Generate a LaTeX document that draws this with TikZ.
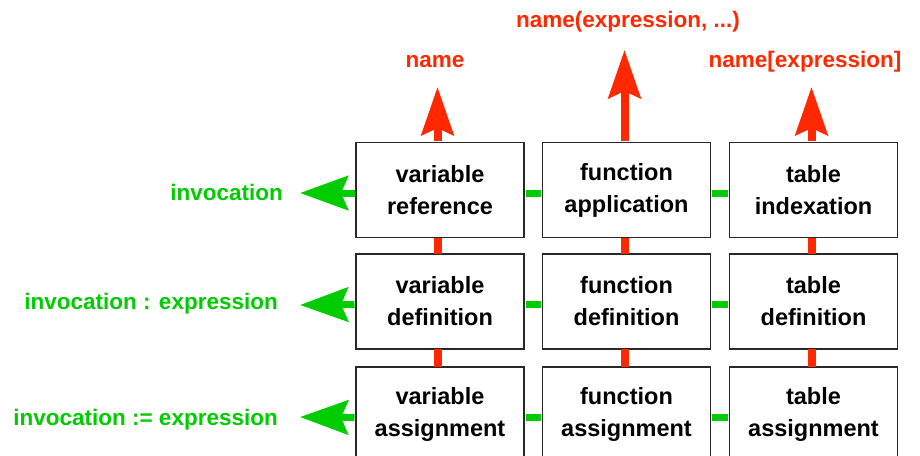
\documentclass[tikz,border=0pt]{standalone}
\usepackage{fontspec}
\setmainfont{Liberation Sans}
\usetikzlibrary{arrows.meta}
\definecolor{myred}{RGB}{255,40,0}
\definecolor{mygreen}{RGB}{0,204,0}
\definecolor{edge}{RGB}{40,40,40}
\tikzset{
  box/.style={draw=edge, line width=1.5pt, fill=white, minimum width=168pt, minimum height=95pt,
    inner sep=0pt, align=center, font=\fontsize{23.5}{32}\selectfont\bfseries},
  redarrow/.style={draw=myred, line width=8pt, -{Stealth[length=48pt,width=32pt,inset=7pt]}},
  greenarrow/.style={draw=mygreen, line width=7pt, -{Stealth[length=48pt,width=34pt,inset=7pt]}},
  redlink/.style={draw=myred, line width=8pt},
  greenlink/.style={draw=mygreen, line width=7pt},
  redlabel/.style={text=myred, font=\fontsize{22.5}{24}\selectfont\bfseries, inner sep=0pt},
  greenlabel/.style={text=mygreen, font=\fontsize{22.5}{24}\selectfont\bfseries, inner sep=0pt, anchor=east},
}
\begin{document}
\begin{tikzpicture}[x=1pt,y=-1pt]
\clip (0,0) rectangle (920,455);
\fill[white] (0,0) rectangle (920,455);
% boxes
\node[box] (v1) at (440,190) {variable\\reference};
\node[box] (f1) at (626.5,190) {function\\application};
\node[box] (t1) at (813.5,190) {table\\indexation};
\node[box] (v2) at (440,301.5) {variable\\definition};
\node[box] (f2) at (626.5,301.5) {function\\definition};
\node[box] (t2) at (813.5,301.5) {table\\definition};
\node[box] (v3) at (440,414.5) {variable\\assignment};
\node[box] (f3) at (626.5,414.5) {function\\assignment};
\node[box] (t3) at (813.5,414.5) {table\\assignment};
% vertical red links
\foreach \c/\a/\b in {v/1/2,v/2/3,f/1/2,f/2/3,t/1/2,t/2/3}{
  \draw[redlink] ([xshift=-2pt,yshift=0.75pt]\c\a.south) -- ([xshift=-2pt,yshift=-0.75pt]\c\b.north);
}
% horizontal green links
\foreach \r in {1,2,3}{
  \draw[greenlink] ([yshift=-3pt,xshift=0.75pt]v\r.east) -- ([yshift=-3pt,xshift=-0.75pt]f\r.west);
  \draw[greenlink] ([yshift=-3pt,xshift=0.75pt]f\r.east) -- ([yshift=-3pt,xshift=-0.75pt]t\r.west);
}
% red arrows up
\coordinate (rt1) at (437.5,87);
\coordinate (rt2) at (624.5,50);
\coordinate (rt3) at (811.5,87);
\draw[redarrow] ([xshift=-2.5pt,yshift=0.75pt]v1.north) -- (rt1);
\draw[redarrow] ([xshift=-2pt,yshift=0.75pt]f1.north) -- (rt2);
\draw[redarrow] ([xshift=-2pt,yshift=0.75pt]t1.north) -- (rt3);
\node[redlabel] (l1) at (435,62) {name};
\node[redlabel] (l2) at (628,22) {name(expression, ...)};
\node[redlabel] (l3) at (805,62) {name[expression]};
% green arrows left
\coordinate (gt1) at (300,193);
\coordinate (gt2) at (300,305);
\coordinate (gt3) at (300,417);
\draw[greenarrow] ([yshift=-3pt,xshift=-0.75pt]v1.west) -- (gt1);
\draw[greenarrow] ([yshift=-3pt,xshift=-0.75pt]v2.west) -- (gt2);
\draw[greenarrow] ([yshift=-3pt,xshift=-0.75pt]v3.west) -- (gt3);
\node[greenlabel] (g1) at (283,192) {invocation};
\node[greenlabel] (g2) at (278,304) {invocation : expression};
\node[greenlabel] (g3) at (278,420) {invocation := expression};
\end{tikzpicture}
\end{document}
